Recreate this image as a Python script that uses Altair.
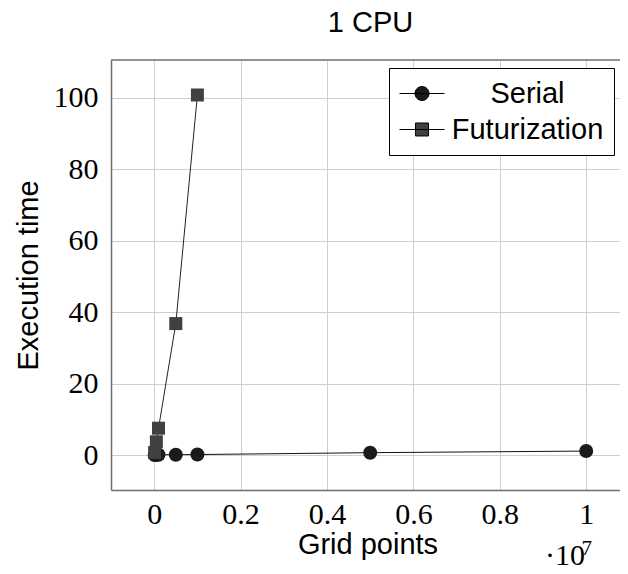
import altair as alt
import pandas as pd

# ---- data ----
series_names = ["Serial", "Futurization"]
serial_x = [1e4, 5e4, 1e5, 5e5, 1e6, 5e6, 1e7]
serial_y = [0.01, 0.04, 0.07, 0.09, 0.13, 0.65, 1.1]
fut_x = [1e4, 5e4, 1e5, 5e5, 1e6]
fut_y = [0.7, 3.7, 7.5, 36.8, 100.8]
x_ticks = [0, 2e6, 4e6, 6e6, 8e6, 1e7]
y_ticks = [0, 20, 40, 60, 80, 100]
title_text = "1 CPU"
x_title = "Grid points"
y_title = "Execution time"
exp_base = "\u00b710"
exp_power = "7"

df = pd.DataFrame({
    "points": serial_x + fut_x,
    "time": serial_y + fut_y,
    "series": [series_names[0]] * len(serial_x) + [series_names[1]] * len(fut_x),
})

W, H = 509, 430
SANS = "Liberation Sans"
SERIF = "Liberation Serif"
GRID = "#cfcfcf"
FRAME = "#707070"

x_scale = alt.Scale(domain=[-1e6, 1.07824e7], nice=False, zero=False)
y_scale = alt.Scale(domain=[-9.8, 110.6], nice=False, zero=False)

x_axis = alt.Axis(
    values=x_ticks, labelExpr="format(datum.value / 1e7, '~g')",
    title=x_title, titleFont=SANS, titleFontSize=29, titleFontWeight="normal",
    titleColor="black", titleX=256.5, titleY=63, titleAlign="center",
    titleBaseline="alphabetic", titleAngle=0,
    labelFont=SERIF, labelFontSize=30, labelColor="black", labelBaseline="top",
    labelPadding=9, ticks=False, tickSize=0, domainColor=FRAME, domainWidth=1.5,
    gridColor=GRID, gridWidth=1, labelOverlap=False, labelFlush=False, labelBound=False,
)
y_axis = alt.Axis(
    values=y_ticks, title=y_title, titleFont=SANS, titleFontSize=29,
    titleFontWeight="normal", titleColor="black", titleAngle=270,
    titleX=-74, titleY=215, titleAlign="center", titleBaseline="alphabetic",
    labelFont=SERIF, labelFontSize=30, labelColor="black", labelPadding=13,
    ticks=False, tickSize=0, domainColor=FRAME, domainWidth=1.5,
    gridColor=GRID, gridWidth=1, labelOverlap=False, labelFlush=False, labelBound=False,
)

base = alt.Chart(df).encode(
    x=alt.X("points:Q", scale=x_scale, axis=x_axis),
    y=alt.Y("time:Q", scale=y_scale, axis=y_axis),
)

serial = base.transform_filter(alt.datum.series == series_names[0])
fut = base.transform_filter(alt.datum.series == series_names[1])

serial_line = serial.mark_line(color="#111111", strokeWidth=1)
serial_pts = serial.mark_point(shape="circle", filled=True, size=196, color="#1a1a1a", opacity=1)
fut_line = fut.mark_line(color="#222222", strokeWidth=1)
fut_pts = fut.mark_point(shape="square", filled=True, size=169, color="#404040", opacity=1)

circ_path = "M-1.5,0H1.5M0.467,0A0.467,0.467,0,1,1,-0.467,0A0.467,0.467,0,1,1,0.467,0Z"
sq_path = "M-1.5,0H1.5M-0.433,-0.433H0.433V0.433H-0.433Z"

leg = alt.Legend(
    title=None, orient="none", legendX=278, legendY=8, symbolSize=900,
    symbolOffset=7.5, symbolStrokeWidth=1, labelFont=SANS, labelFontSize=29,
    labelColor="black", labelAlign="center", labelOffset=90, labelLimit=400,
    padding=10, rowPadding=5, strokeColor="black", fillColor="white",
    cornerRadius=0, symbolOpacity=1, labelBaseline="middle",
)

legend_layer = base.transform_filter("datum.time < -1000").mark_point(filled=True, opacity=1).encode(
    shape=alt.Shape("series:N", scale=alt.Scale(domain=series_names, range=[circ_path, sq_path]), legend=leg),
    fill=alt.Fill("series:N", scale=alt.Scale(domain=series_names, range=["#1a1a1a", "#404040"]), legend=leg),
    stroke=alt.Stroke("series:N", scale=alt.Scale(domain=series_names, range=["black", "black"]), legend=leg),
)

one = pd.DataFrame({"t": [exp_base], "p": [exp_power], "title": [title_text]})
top_frame = alt.Chart(one).mark_rule(color=FRAME, strokeWidth=1.5).encode(
    x=alt.value(0), x2=alt.value(W + 10), y=alt.value(0)
)
title_mark = alt.Chart(one).mark_text(font=SANS, fontSize=29, align="center", baseline="alphabetic", color="black").encode(
    x=alt.value(259.5), y=alt.value(-27.7), text="title:N"
)
exp_text = alt.Chart(one).mark_text(font=SERIF, fontSize=30, align="left", baseline="alphabetic", color="black").encode(
    x=alt.value(434), y=alt.value(505), text="t:N"
)
exp_sup = alt.Chart(one).mark_text(font=SERIF, fontSize=21, align="left", baseline="alphabetic", color="black").encode(
    x=alt.value(470.5), y=alt.value(495), text="p:N"
)

chart = alt.layer(
    top_frame, serial_line, serial_pts, fut_line, fut_pts, legend_layer,
    title_mark, exp_text, exp_sup
).properties(
    width=W, height=H,
    autosize=alt.AutoSizeParams(type="none"),
    padding={"left": 103, "top": 52, "right": 0, "bottom": 80},
).configure_view(stroke=None)

chart.save("out.html", embed_options={"renderer": "svg", "actions": False})
